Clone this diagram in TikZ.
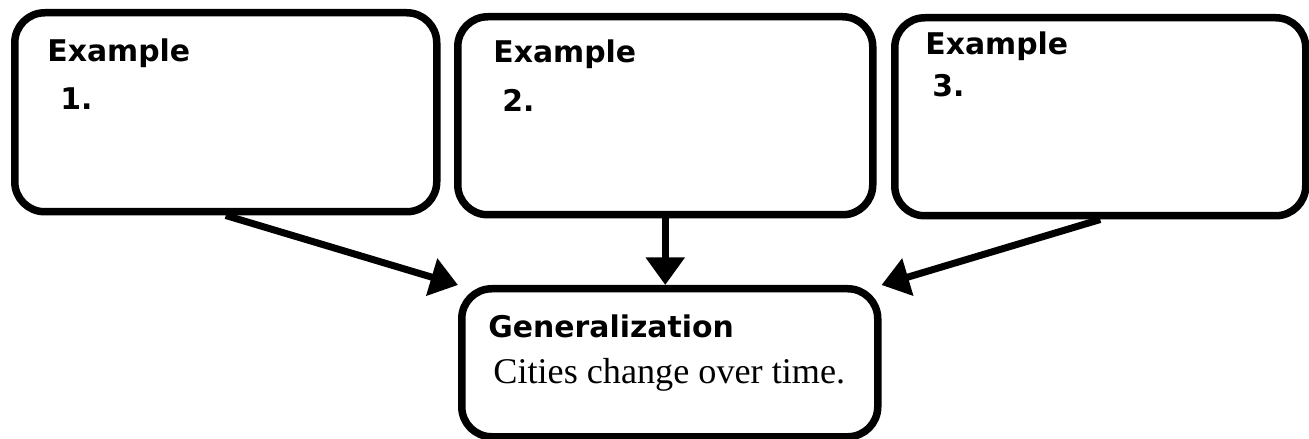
\documentclass[tikz,border=0pt]{standalone}
\usepackage{fontspec}
\setmainfont{Liberation Serif}
\newfontfamily\titrefont{DejaVu Sans}
\usetikzlibrary{arrows.meta}
\tikzstyle{cadre} = [rectangle, rounded corners=0.6cm, draw=black, line width=1.5mm, anchor=north west, inner sep=0pt]
\tikzstyle{titre} = [anchor=base west, inner sep=0pt, font=\titrefont\bfseries\fontsize{17}{20}\selectfont]
\tikzstyle{texte} = [anchor=base west, inner sep=0pt, font=\fontsize{20.6}{24}\selectfont]
\tikzstyle{fleche} = [line width=1.4mm, -{Triangle[length=5.5mm, width=7.5mm]}]

\begin{document}
\begin{tikzpicture}
        \useasboundingbox (0,0) rectangle (26.18,-8.78);

        % les trois exemples
        \node (E1) [cadre, minimum width=8.44cm, minimum height=3.98cm] at (0.22,-0.18) {};
        \node (T1) [titre] at (0.94,-1.24) {Example};
        \node (N1) [titre] at (1.20,-2.20) {1.};

        \node (E2) [cadre, minimum width=8.30cm, minimum height=3.96cm] at (9.08,-0.26) {};
        \node (T2) [titre] at (9.86,-1.26) {Example};
        \node (N2) [titre] at (10.04,-2.24) {2.};

        \node (E3) [cadre, minimum width=8.22cm, minimum height=3.96cm] at (17.82,-0.28) {};
        \node (T3) [titre] at (18.50,-1.10) {Example};
        \node (N3) [titre] at (18.64,-1.94) {3.};

        % la generalisation
        \node (G) [cadre, minimum width=8.32cm, minimum height=2.96cm] at (9.16,-5.70) {};
        \node (TG) [titre] at (9.76,-6.74) {Generalization};
        \node (CG) [texte] at (9.86,-7.66) {Cities change over time.};

        \draw[fleche] (E1.south) -- (G.north west);
        \draw[fleche] (E2.south) -- (E2.south |- G.north);
        \draw[fleche] (E3.south) -- (G.north east);

    \end{tikzpicture}
\end{document}
